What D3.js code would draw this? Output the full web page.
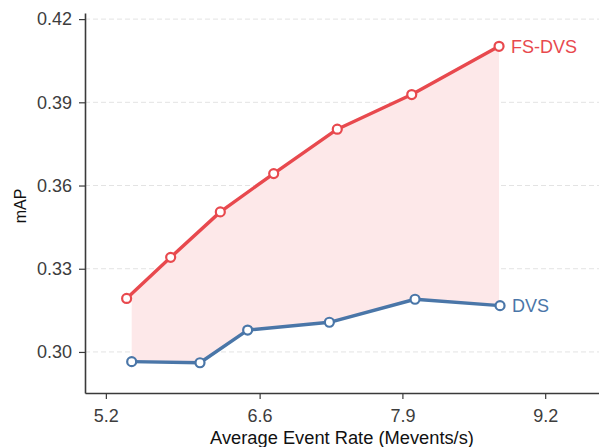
<!DOCTYPE html>
<html>
<head>
<meta charset="utf-8">
<script src="https://cdn.jsdelivr.net/npm/d3@7"></script>
<style>
  html, body { margin: 0; padding: 0; background: #fff; }
  svg { display: block; font-family: "Liberation Sans", Arial, sans-serif; }
</style>
</head>
<body>
<svg id="chart" width="599" height="447"></svg>
<script>
// Average event rate (Mevents/s) vs. mAP for the two input representations
const fsRate = [5.389, 5.790, 6.242, 6.728, 7.307, 7.985, 8.780];
const fsMap  = [0.3193, 0.3341, 0.3505, 0.3643, 0.3803, 0.3928, 0.4102];
const dvsRate = [5.435, 6.057, 6.491, 7.235, 8.015, 8.789];
const dvsMap  = [0.2965, 0.2961, 0.3079, 0.3107, 0.3190, 0.3167];
const xTicks = [5.2, 6.6, 7.9, 9.2];
const yTicks = [0.30, 0.33, 0.36, 0.39, 0.42];
const seriesNames = ["FS-DVS", "DVS"];

const red = "#e8494e", blue = "#4a76a8", fillPink = "#fde8e9";
const axisColor = "#3a3a3a", textColor = "#3d3d3d";
const fontFam = "Liberation Sans, Arial, sans-serif";

const svg = d3.select("#chart");
const plotLeft = 85, plotRight = 599, plotTop = 13, plotBottom = 393;

const x = d3.scaleLinear().domain([5.01, 9.69]).range([plotLeft, plotRight]);
const y = d3.scaleLinear().domain([0.2852, 0.4222]).range([plotBottom, plotTop]);

// dashed horizontal grid
svg.append("g").selectAll("line").data(yTicks).join("line")
  .attr("x1", plotLeft).attr("x2", plotRight)
  .attr("y1", d => y(d)).attr("y2", d => y(d))
  .attr("stroke", "#e3e3e3").attr("stroke-width", 1)
  .attr("stroke-dasharray", "5,3");

// shaded gap between the two curves over their common range
const fsPts = fsRate.map((r, i) => [r, fsMap[i]]);
const dvsPts = dvsRate.map((r, i) => [r, dvsMap[i]]);
function interp(pts, v) {
  for (let i = 0; i < pts.length - 1; i++) {
    const [x0, y0] = pts[i], [x1, y1] = pts[i + 1];
    if (v >= x0 && v <= x1) return y0 + (y1 - y0) * (v - x0) / (x1 - x0);
  }
  return v < pts[0][0] ? pts[0][1] : pts[pts.length - 1][1];
}
const lo = Math.max(fsRate[0], dvsRate[0]);
const hi = Math.min(fsRate[fsRate.length - 1], dvsRate[dvsRate.length - 1]);
const xs = Array.from(new Set([lo, hi, ...fsRate, ...dvsRate]))
  .filter(v => v >= lo && v <= hi).sort((a, b) => a - b);
const band = xs.map(v => ({ r: v, hiVal: interp(fsPts, v), loVal: interp(dvsPts, v) }));
svg.append("path").datum(band)
  .attr("fill", fillPink)
  .attr("d", d3.area().x(d => x(d.r)).y0(d => y(d.loVal)).y1(d => y(d.hiVal)));

// axes
const xAxis = svg.append("g").attr("transform", `translate(0,${plotBottom})`)
  .call(d3.axisBottom(x).tickValues(xTicks).tickFormat(d3.format(".1f")).tickSize(6).tickSizeOuter(0));
const yAxis = svg.append("g").attr("transform", `translate(${plotLeft},0)`)
  .call(d3.axisLeft(y).tickValues(yTicks).tickFormat(d3.format(".2f")).tickSize(6).tickSizeOuter(0));
[xAxis, yAxis].forEach(g => {
  g.select(".domain").attr("stroke", axisColor).attr("stroke-width", 1.6);
  g.selectAll(".tick line").attr("stroke", axisColor).attr("stroke-width", 1.2);
  g.selectAll(".tick text").attr("fill", textColor).attr("font-size", 18)
    .attr("font-family", fontFam);
});
xAxis.selectAll(".tick text").attr("y", 28.5).attr("dy", "0");
yAxis.selectAll(".tick text").attr("x", -13);

// axis titles
svg.append("text").attr("x", 342).attr("y", 443.5)
  .attr("text-anchor", "middle").attr("font-size", 18.3).attr("fill", "#111")
  .text("Average Event Rate (Mevents/s)");
svg.append("text").attr("transform", `translate(26,206) rotate(-90)`)
  .attr("text-anchor", "middle").attr("font-size", 16).attr("fill", "#111")
  .text("mAP");

// lines and markers
const line = d3.line().x(d => x(d[0])).y(d => y(d[1]));
[[fsPts, red], [dvsPts, blue]].forEach(([pts, c]) => {
  svg.append("path").datum(pts).attr("fill", "none").attr("stroke", c)
    .attr("stroke-width", 3.4).attr("stroke-linejoin", "round").attr("d", line);
  svg.append("g").selectAll("circle").data(pts).join("circle")
    .attr("cx", d => x(d[0])).attr("cy", d => y(d[1])).attr("r", 4.5)
    .attr("fill", "#fff").attr("stroke", c).attr("stroke-width", 2.2);
});

// end-of-line labels
svg.append("text").attr("x", x(fsRate[fsRate.length - 1]) + 12)
  .attr("y", y(fsMap[fsMap.length - 1])).attr("dy", "0.35em")
  .attr("font-size", 18).attr("fill", red).text(seriesNames[0]);
svg.append("text").attr("x", x(dvsRate[dvsRate.length - 1]) + 12)
  .attr("y", y(dvsMap[dvsMap.length - 1])).attr("dy", "0.35em")
  .attr("font-size", 18).attr("fill", blue).text(seriesNames[1]);
</script>
</body>
</html>
